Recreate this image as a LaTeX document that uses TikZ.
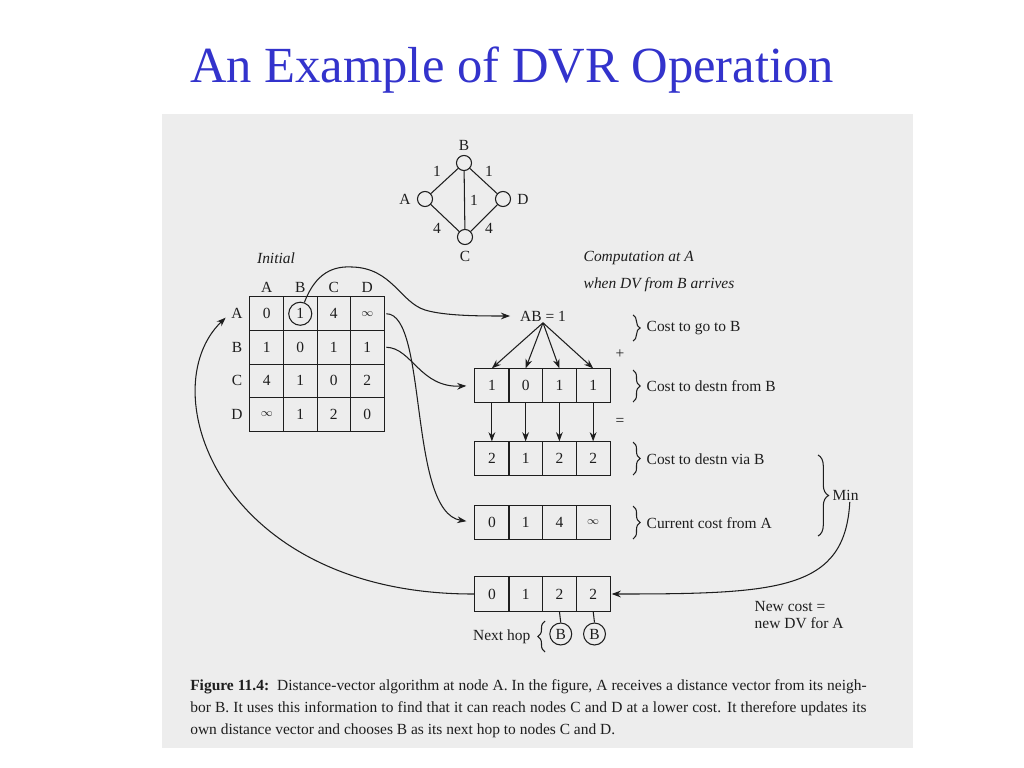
\documentclass[tikz,border=0pt]{standalone}
\usepackage{fontspec}
\setmainfont{Liberation Serif}
\usetikzlibrary{arrows.meta,decorations.pathreplacing}
\definecolor{ink}{HTML}{1E1E1E}
\definecolor{titleblue}{HTML}{3333CC}
\definecolor{pagegray}{HTML}{EDEDED}
\newcommand\myinf{{\fontsize{8.5}{9}\selectfont$\infty$}}
\tikzset{
  lab/.style={font=\fontsize{11}{12}\selectfont, text=ink, inner sep=1pt},
  itlab/.style={font=\fontsize{11}{12}\selectfont\itshape, text=ink, inner sep=1pt},
  cell/.style={minimum width=#1, minimum height=#1, inner sep=0pt,
               font=\fontsize{11}{12}\selectfont, text=ink},
  gridln/.style={draw=ink, line width=0.9pt},
  gnode/.style={circle, draw=ink, line width=0.75pt, minimum size=10.7pt, inner sep=0pt},
  hop/.style={circle, draw=ink, line width=0.75pt, minimum size=15.6pt, inner sep=0pt,
              font=\fontsize{11}{12}\selectfont, text=ink},
  ln/.style={draw=ink, line width=0.75pt},
  arr/.style={draw=ink, line width=0.75pt, -{Stealth[length=6.5pt,width=4.8pt]}},
  br/.style={draw=ink, line width=0.75pt, decorate, decoration={brace, amplitude=#1}},
  br/.default=5pt
}
\begin{document}
\begin{tikzpicture}[x=0.025cm, y=-0.025cm]
\useasboundingbox (0,0) rectangle (1024,768);
\fill[white] (0,0) rectangle (1024,768);
\fill[pagegray] (162,114) rectangle (913,748);

% title
\node[font=\fontsize{36}{40}\selectfont, text=titleblue] (title) at (512,70) {An Example of DVR Operation};

% small network
\node[gnode] (gB) at (464,163) {};
\node[gnode] (gA) at (425,199) {};
\node[gnode] (gD) at (503,199) {};
\node[gnode] (gC) at (465,237) {};
\node[lab] (lgB) at (464,145) {B};
\node[lab] (lgA) at (405,199) {A};
\node[lab] (lgD) at (523,199) {D};
\node[lab] (lgC) at (465,256) {C};
\draw[ln] (gA) -- (gB);
\draw[ln] (gB) -- (gD);
\draw[ln] (gB) -- (gC);
\draw[ln] (gA) -- (gC);
\draw[ln] (gD) -- (gC);
\node[lab] (w1) at (437,171) {1};
\node[lab] (w2) at (489,171) {1};
\node[lab] (w3) at (474,200) {1};
\node[lab] (w4) at (437,228) {4};
\node[lab] (w5) at (489,228) {4};

% initial table
\node[itlab] (init) at (276,258) {Initial};
\foreach \c/\x in {A/266.75,B/300.25,C/333.75,D/367.25}
  \node[lab] (col\c) at (\x,287) {\c};
\foreach \c/\y in {A/313.75,B/347.25,C/380.75,D/414.25}
  \node[lab] (row\c) at (237,\y) {\c};
\foreach \row [count=\i] in {{0,1,4,\myinf},{1,0,1,1},{4,1,0,2},{\myinf,1,2,0}} {
  \foreach \v [count=\j] in \row {
    \node[cell=23.83pt] (t-\i-\j) at ({233.25+33.5*\j},{280.25+33.5*\i}) {\v};
  }
}
\draw[gridln] (t-1-1.north west) rectangle (t-4-4.south east);
\foreach \k in {1,2,3} {
  \draw[gridln] (t-1-\k.north east) -- (t-4-\k.south east);
  \draw[gridln] (t-\k-1.south west) -- (t-\k-4.south east);
}
\node[circle, draw=ink, line width=0.75pt, minimum size=16.4pt, inner sep=0pt] (circ) at (300.25,313.75) {};

% computation at A
\node[itlab, anchor=west] (comp1) at (582,258) {Computation at A};
\node[itlab, anchor=west] (comp2) at (582,285) {when DV from B arrives};
\node[lab] (ab) at (543,316) {AB = 1};

\foreach \row/\y/\nm in {{1,0,1,1}/385.5/v1, {2,1,2,2}/458.5/v2, {0,1,4,\myinf}/522.5/v3, {0,1,2,2}/594/v4} {
  \foreach \v [count=\j] in \row {
    \node[cell=24pt] (\nm-\j) at ({458.125+33.75*\j},\y) {\v};
  }
  \draw[gridln] (\nm-1.north west) rectangle (\nm-4.south east);
  \foreach \k in {1,2,3}
    \draw[gridln] (\nm-\k.north east) -- (\nm-\k.south east);
}

\foreach \j in {1,...,4} {
  \draw[arr] (ab.south) -- (v1-\j.north);
  \draw[arr] (v1-\j.south) -- (v2-\j.north);
}

% braces and labels
\draw[br] (633,315) -- (633,341);
\node[lab, anchor=west] (l1) at (645,328) {Cost to go to B};
\node[lab] (plus) at (620,354) {+};
\draw[br] (633,370) -- (633,402);
\node[lab, anchor=west] (l2) at (645,386) {Cost to destn from B};
\node[lab] (eq) at (620,422) {=};
\draw[br] (633,442) -- (633,475);
\node[lab, anchor=west] (l3) at (645,459) {Cost to destn via B};
\draw[br] (633,506) -- (633,539);
\node[lab, anchor=west] (l4) at (645,523) {Current cost from A};
\draw[br=7.5pt] (818,455) -- (818,536);
\node[lab, anchor=west] (min) at (831,495) {Min};

% next hop
\node[hop] (h1) at (560.75,634) {B};
\node[hop] (h2) at (594.5,634) {B};
\draw[ln] (v4-3.south) -- (h1.north);
\draw[ln] (v4-4.south) -- (h2.north);
\draw[br] (545,652) -- (545,621);
\node[lab, anchor=east] (nh) at (532,637) {Next hop};
\node[lab, anchor=west, align=left, font=\fontsize{11}{12.2}\selectfont] (nc) at (753,615) {New cost =\\new DV for A};

% connectors
\draw[arr, shorten >=6pt] (circ.70) .. controls (316,272) and (334,266) .. (352,267)
   .. controls (392,268) and (400,302) .. (425,310)
   .. controls (445,316) and (480,316) .. (ab.west);
\draw[arr, shorten >=6pt] ([xshift=1.5pt]t-1-4.east) .. controls (428,314) and (408,512) .. (v3-1.west);
\draw[arr, shorten >=6pt] ([xshift=1.5pt]t-2-4.east) .. controls (412,348) and (420,388) .. (v1-1.west);
\draw[arr, shorten >=4pt] (v4-1.west) .. controls (220,595) and (150,390) .. (rowA.west);
\draw[arr, shorten >=1pt] ([xshift=3pt]min.south) .. controls (845,590) and (780,594) .. (v4-4.east);

% caption
\node[anchor=west, inner sep=0pt, text=ink, font=\fontsize{11}{13}\selectfont] (cap1) at (190,687)
  {\makebox[481pt][s]{\textbf{Figure 11.4:}\ \ Distance-vector algorithm at node A. In the figure, A receives a distance vector from its neigh-}};
\node[anchor=west, inner sep=0pt, text=ink, font=\fontsize{11}{13}\selectfont] (cap2) at (190,709)
  {\makebox[481pt][s]{bor B. It uses this information to find that it can reach nodes C and D at a lower cost. It therefore updates its}};
\node[anchor=west, inner sep=0pt, text=ink, font=\fontsize{11}{13}\selectfont] (cap3) at (190,731)
  {own distance vector and chooses B as its next hop to nodes C and D.};
\end{tikzpicture}
\end{document}
